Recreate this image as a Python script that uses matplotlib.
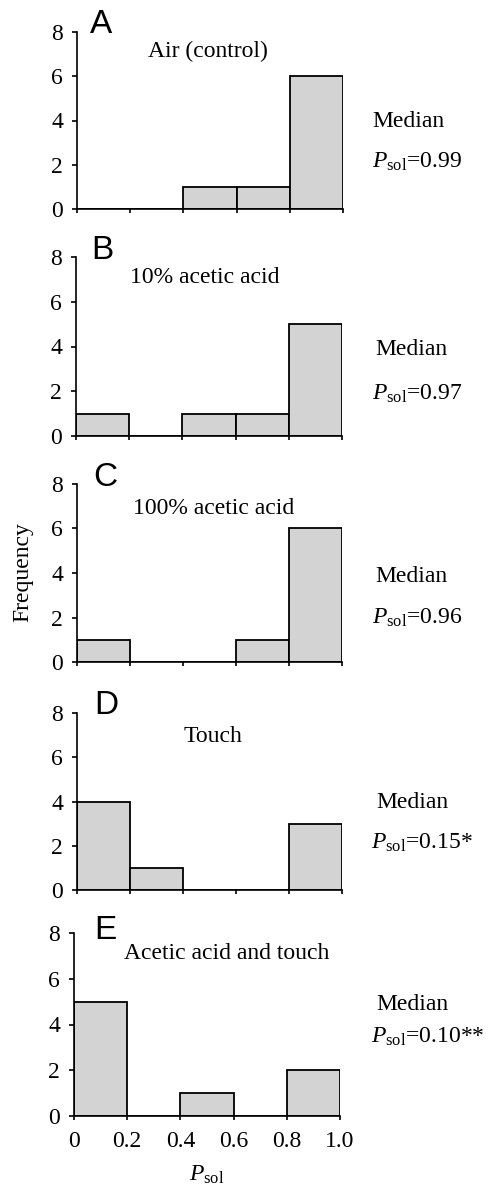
import matplotlib
matplotlib.use("Agg")
import matplotlib.pyplot as plt
import numpy as np

bin_edges = [0.0, 0.2, 0.4, 0.6, 0.8, 1.0]
panel_letters = ["A", "B", "C", "D", "E"]
conditions = ["Air (control)", "10% acetic acid", "100% acetic acid", "Touch", "Acetic acid and touch"]
counts_A = [0, 0, 1, 1, 6]
counts_B = [1, 0, 1, 1, 5]
counts_C = [1, 0, 0, 1, 6]
counts_D = [4, 1, 0, 0, 3]
counts_E = [5, 0, 1, 0, 2]
medians = ["0.99", "0.97", "0.96", "0.15*", "0.10**"]
yticks = [0, 2, 4, 6, 8]
xticks = [0, 0.2, 0.4, 0.6, 0.8, 1.0]
xticklabels = ["0", "0.2", "0.4", "0.6", "0.8", "1.0"]

all_counts = [counts_A, counts_B, counts_C, counts_D, counts_E]

plt.rcParams['font.family'] = ['Liberation Serif', 'DejaVu Serif']
plt.rcParams['mathtext.fontset'] = 'custom'
plt.rcParams['mathtext.rm'] = 'Liberation Serif'
plt.rcParams['mathtext.it'] = 'Liberation Serif:italic'

W, H = 488, 1186
fig = plt.figure(figsize=(W / 100, H / 100), dpi=100)

# axes pixel boxes: (left, right, top, bottom)
boxes = [(77, 343, 32, 209), (76, 342, 257, 436), (77, 342, 484, 662),
         (77, 342, 713, 890), (74, 340, 933, 1116)]
# text pixel positions (baselines)
letter_xy = [(90, 33), (91, 259), (93, 486), (94, 714), (94, 939)]
cond_xy = [(208, 57), (205, 283), (214, 514), (213, 742), (227, 959)]
median_xy = [(372, 127), (375, 355), (375, 582), (376, 808), (376, 1010)]
psol_xy = [(372, 168), (372, 400), (372, 624), (371, 849), (371, 1043)]

FS = 17

def fx(px):
    return px / W

def fy(py):
    return 1 - py / H

bar_color = "#d3d3d3"
for i, counts in enumerate(all_counts):
    l, r, top, bot = boxes[i]
    ax = fig.add_axes([fx(l), fy(bot), (r - l) / W, (bot - top) / H])
    ax.bar(bin_edges[:-1], counts, width=0.2, align='edge', color=bar_color,
           edgecolor='black', linewidth=1.3, zorder=2)
    ax.set_xlim(0, 1.0)
    ax.set_ylim(0, 8)
    ax.set_yticks(yticks)
    ax.set_xticks(xticks)
    for s in ['top', 'right']:
        ax.spines[s].set_visible(False)
    for s in ['left', 'bottom']:
        ax.spines[s].set_linewidth(1.2)
        ax.spines[s].set_zorder(3)
    ax.tick_params(axis='y', direction='out', length=3.6, width=1.2, labelsize=FS, pad=6.5)
    ax.tick_params(axis='x', direction='out', length=3, width=1.2, labelsize=FS, pad=8)
    if i == 4:
        ax.set_xticklabels(xticklabels)
        ax.set_xlabel(r"$P_{\mathrm{sol}}$", fontsize=FS, labelpad=8)
    else:
        ax.set_xticklabels([])
    fig.text(fx(letter_xy[i][0]), fy(letter_xy[i][1]), panel_letters[i],
             family=['Liberation Sans', 'DejaVu Sans'], fontsize=24, ha='left', va='baseline')
    fig.text(fx(cond_xy[i][0]), fy(cond_xy[i][1]), conditions[i], fontsize=FS, ha='center', va='baseline')
    fig.text(fx(median_xy[i][0]), fy(median_xy[i][1]), "Median", fontsize=FS, ha='left', va='baseline')
    fig.text(fx(psol_xy[i][0]), fy(psol_xy[i][1]), r"$P_{\mathrm{sol}}$=" + medians[i], fontsize=FS,
             ha='left', va='baseline')

fig.text(fx(23), fy(572), "Frequency", fontsize=FS, rotation=90, ha='center', va='center')

fig.savefig("out.png", dpi=100)
